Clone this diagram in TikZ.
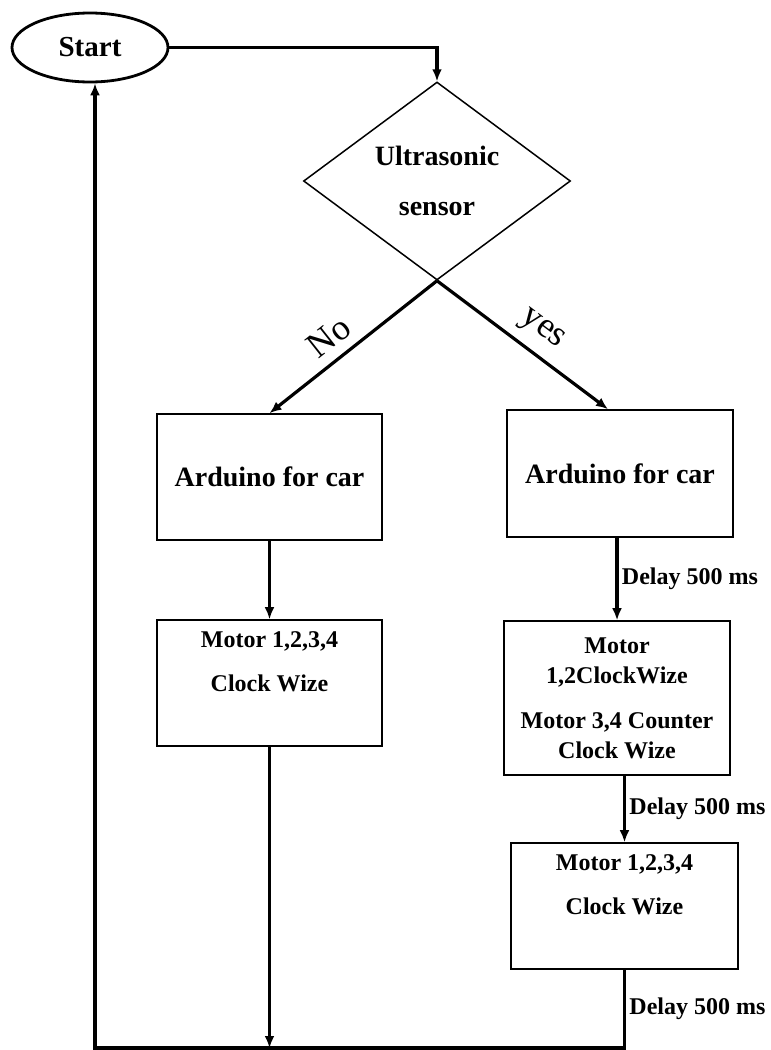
\documentclass[tikz,border=0pt]{standalone}
\usepackage{fontspec}
\setmainfont{Liberation Serif}
\usetikzlibrary{shapes.geometric,arrows.meta}

\begin{document}
\begin{tikzpicture}[x=1pt, y=-1pt,
		box/.style={draw, line width=1.6pt, minimum width=225pt, minimum height=126pt, inner sep=0pt, align=center},
		arduino/.style={box, font=\fontsize{28}{34}\selectfont\bfseries},
		motor/.style={box, font=\fontsize{24}{44}\selectfont\bfseries, text depth=42pt},
		flow/.style={line width=3.2pt, -{Latex[length=12pt,width=10pt]}},
		delay/.style={right, font=\fontsize{24}{28}\selectfont\bfseries},
		answer/.style={sloped, font=\fontsize{36}{40}\selectfont}]
			%%%%% START %%%%%
			
			\useasboundingbox (0,0) rectangle (771,1050);
			
			\node[ellipse, draw, line width=2.8pt, minimum width=156pt, minimum height=69pt, inner sep=0pt, font=\fontsize{29}{34}\selectfont\bfseries] (start) at (90,47.5) {Start};
			
			\node[diamond, draw, line width=1.5pt, minimum width=267pt, minimum height=198pt, inner sep=0pt, align=center, font=\fontsize{28}{50}\selectfont\bfseries] (sensor) at (437,181) {Ultrasonic\\sensor};
			
			\node[arduino] (leftA) at (269.5,477) {Arduino for car};
			\node[arduino, minimum width=226pt, minimum height=127pt] (rightA) at (620,473.5) {Arduino for car};
			
			\node[motor] (leftM) at (269.5,683) {Motor 1,2,3,4\\Clock Wize};
			\node[box, minimum width=226pt, minimum height=154pt, font=\fontsize{24}{30}\selectfont\bfseries] (rightM) at (617,698) {Motor\\1,2ClockWize\\[15pt]Motor 3,4 Counter\\Clock Wize};
			\node[motor, minimum width=227pt] (rightB) at (624.5,906) {Motor 1,2,3,4\\Clock Wize};
			
			\coordinate (back) at (95,1048);
			
			\draw[flow] (start.east) -- (start.east -| sensor.north) -- (sensor.north);
			\draw[flow] (sensor.south) -- node[answer, above=6pt, pos=0.56] {No} (leftA.north);
			\draw[flow] (sensor.south) -- node[answer, above=6pt, pos=0.53] {yes} ([xshift=-12pt]rightA.north);
			
			\draw[flow] (leftA.south) -- (leftM.north);
			\draw[flow] (rightA.south -| rightM.north) -- node[delay] {Delay 500 ms} (rightM.north);
			\draw[flow] (rightM.south -| rightB.north) -- node[delay] {Delay 500 ms} (rightB.north);
			
			\draw[flow] (leftM.south) -- (leftM.south |- back);
			\draw[flow] (rightB.south) -- node[delay] {Delay 500 ms} (rightB.south |- back) -- (back) -- (start.south -| back);
			
			%%%%% END %%%%%
		\end{tikzpicture}
\end{document}
